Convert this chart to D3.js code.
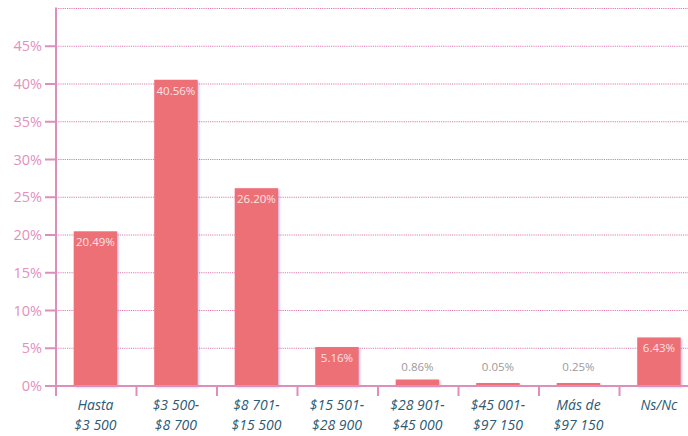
<!DOCTYPE html>
<html>
<head>
<meta charset="utf-8">
<script src="https://cdn.jsdelivr.net/npm/d3@7"></script>
<style>
    body { margin: 0; background: #fff; }
    .grid line { stroke: #e07ab2; stroke-width: 1; stroke-dasharray: 1.2 1; }
    .axis path, .axis line { stroke: #dc8fbb; stroke-width: 2; }
    .yLabel { fill: #e48fbd; font-family: "Open Sans", sans-serif; font-size: 14.5px; }
    .xLabel { fill: #2b5a74; font-family: "Open Sans", sans-serif; font-style: italic; font-size: 14px; }
    .value { font-family: "Open Sans", sans-serif; font-size: 11.5px; }
</style>
</head>
<body>
<script>
// Chart data
var categories = ["Hasta|$3 500", "$3 500-|$8 700", "$8 701-|$15 500", "$15 501-|$28 900",
    "$28 901-|$45 000", "$45 001-|$97 150", "Más de|$97 150", "Ns/Nc"];
var values = [20.49, 40.56, 26.20, 5.16, 0.86, 0.05, 0.25, 6.43];
var valueLabels = ["20.49%", "40.56%", "26.20%", "5.16%", "0.86%", "0.05%", "0.25%", "6.43%"];
var yTicks = [0, 5, 10, 15, 20, 25, 30, 35, 40, 45];

function drawChart() {
    var width = 688,
        height = 436;

    var svg = d3.select("body")
        .append("svg")
        .attr("width", width)
        .attr("height", height);

    var left = 56, top = 8.5, bottom = 386;

    // Scales
    var x = d3.scaleBand()
        .domain(categories)
        .range([left, left + 80.3 * categories.length])
        .paddingInner(0.46)
        .paddingOuter(0.22);

    var y = d3.scaleLinear()
        .domain([0, 50])
        .range([bottom, top]);

    // Bar shadow
    var defs = svg.append("defs");
    var filter = defs.append("filter").attr("id", "shadow")
        .attr("x", "-20%").attr("y", "-20%").attr("width", "150%").attr("height", "150%");
    filter.append("feDropShadow")
        .attr("dx", 1.5).attr("dy", 1.5).attr("stdDeviation", 1.2)
        .attr("flood-color", "#8a7fd0").attr("flood-opacity", 0.45);

    // Dotted gridlines (including the 50% top line)
    svg.append("g")
        .attr("class", "grid")
        .selectAll("line")
        .data(yTicks.slice(1).concat([50]))
        .enter()
        .append("line")
        .attr("x1", left)
        .attr("x2", width)
        .attr("y1", function(d) { return y(d); })
        .attr("y2", function(d) { return y(d); });

    // Bars (tiny values get a 3px minimum so they stay visible)
    svg.selectAll(".bar")
        .data(values)
        .enter()
        .append("rect")
        .attr("class", "bar")
        .attr("x", function(d, i) { return x(categories[i]); })
        .attr("width", x.bandwidth())
        .attr("y", function(d) { return Math.min(y(d), bottom - 3); })
        .attr("height", function(d) { return Math.max(bottom - y(d), 3); })
        .attr("fill", "#ee7077")
        .attr("filter", "url(#shadow)");

    // Value labels: inside for tall bars, above for tiny ones
    svg.selectAll(".value")
        .data(values)
        .enter()
        .append("text")
        .attr("class", "value")
        .attr("text-anchor", "middle")
        .attr("x", function(d, i) { return x(categories[i]) + x.bandwidth() / 2; })
        .attr("y", function(d) { return d > 2 ? y(d) + 15 : bottom - 15; })
        .attr("fill", function(d) { return d > 2 ? "#fbe3e4" : "#9a9a9a"; })
        .text(function(d, i) { return valueLabels[i]; });

    // Y axis
    var yAxis = svg.append("g")
        .attr("class", "axis")
        .attr("transform", "translate(" + left + ",0)");
    yAxis.append("line")
        .attr("x1", 0).attr("x2", 0)
        .attr("y1", top - 1).attr("y2", bottom + 10);
    yAxis.selectAll(".tick")
        .data(yTicks)
        .enter()
        .append("line")
        .attr("x1", -11).attr("x2", 0)
        .attr("y1", function(d) { return y(d); })
        .attr("y2", function(d) { return y(d); });
    yAxis.selectAll(".yLabel")
        .data(yTicks)
        .enter()
        .append("text")
        .attr("class", "yLabel")
        .attr("text-anchor", "end")
        .attr("x", -14)
        .attr("y", function(d) { return y(d) + 5; })
        .text(function(d) { return d + "%"; });

    // X axis
    var step = x.step();
    var xAxis = svg.append("g").attr("class", "axis");
    xAxis.append("line")
        .attr("x1", left - 11).attr("x2", width)
        .attr("y1", bottom).attr("y2", bottom);
    xAxis.selectAll(".xtick")
        .data(d3.range(categories.length + 1))
        .enter()
        .append("line")
        .attr("x1", function(i) { return left + i * step; })
        .attr("x2", function(i) { return left + i * step; })
        .attr("y1", bottom).attr("y2", bottom + 10);

    var labels = svg.selectAll(".xLabel")
        .data(categories)
        .enter()
        .append("text")
        .attr("class", "xLabel")
        .attr("text-anchor", "middle")
        .attr("x", function(d) { return x(d) + x.bandwidth() / 2; })
        .attr("y", 410);
    labels.selectAll("tspan")
        .data(function(d) { return d.split("|"); })
        .enter()
        .append("tspan")
        .attr("x", function() { return d3.select(this.parentNode).attr("x"); })
        .attr("dy", function(d, i) { return i === 0 ? 0 : 20; })
        .text(function(d) { return d; });
}

drawChart();
</script>
</body>
</html>
